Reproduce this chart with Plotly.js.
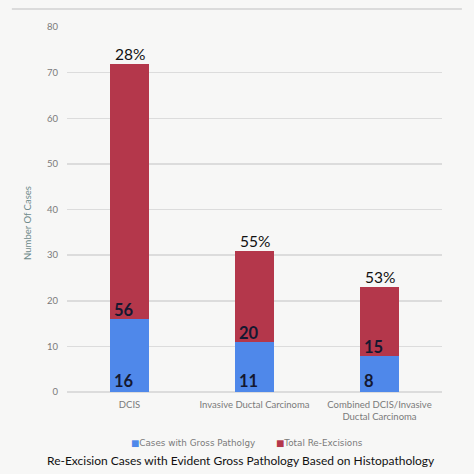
<!DOCTYPE html>
<html>
<head>
<meta charset="utf-8">
<script src="https://cdn.plot.ly/plotly-3.0.1.min.js"></script>
<style>html,body{margin:0;padding:0;background:#f7f7f6;}#chart{width:474px;height:474px;}</style>
</head>
<body>
<div id="chart"></div>
<script>
var categories = ['DCIS', 'Invasive Ductal Carcinoma', 'Combined DCIS/Invasive<br>Ductal Carcinoma'];
var grossPathology = [16, 11, 8];
var totalReExcisions = [56, 20, 15];
var percentLabels = ['28%', '55%', '53%'];
var seriesNames = ['Cases with Gross Patholgy', 'Total Re-Excisions'];
var yTicks = [0, 10, 20, 30, 40, 50, 60, 70, 80];

var blue = '#4f88ea', red = '#b4374b';
var fontFam = 'Lato, "Open Sans", sans-serif';
var wideFam = '"DejaVu Sans", Verdana, sans-serif';

var traces = [
  {type: 'bar', name: seriesNames[0], x: categories, y: grossPathology, marker: {color: blue}, hoverinfo: 'none'},
  {type: 'bar', name: seriesNames[1], x: categories, y: totalReExcisions, marker: {color: red}, hoverinfo: 'none'}
];

var annotations = [];
categories.forEach(function (c, i) {
  annotations.push({x: c, y: 0, text: String(grossPathology[i]), showarrow: false, xanchor: 'left', yanchor: 'bottom', xshift: -18, yshift: -1,
    font: {family: fontFam, size: 16.5, color: '#141830', weight: 'bold'}});
  annotations.push({x: c, y: grossPathology[i], text: String(totalReExcisions[i]), showarrow: false, xanchor: 'left', yanchor: 'bottom', xshift: -18, yshift: -3,
    font: {family: fontFam, size: 16.5, color: '#141830', weight: 'bold'}});
  annotations.push({x: c, y: grossPathology[i] + totalReExcisions[i], text: percentLabels[i], showarrow: false, xanchor: 'center', yanchor: 'bottom', yshift: -1,
    font: {family: fontFam, size: 15.5, color: '#111111'}});
});
// legend built as text entries
var legendColors = [blue, red];
var legendX = [0.166, 0.553];
seriesNames.forEach(function (n, i) {
  annotations.push({xref: 'paper', yref: 'paper', x: legendX[i], y: -0.14, xanchor: 'left', yanchor: 'middle', showarrow: false,
    text: '<span style="color:' + legendColors[i] + '">■</span>' + n,
    font: {family: wideFam, size: 8.8, color: '#7a7a7a'}});
});
// y axis title
annotations.push({xref: 'paper', yref: 'paper', x: -0.107, y: 0.463, xanchor: 'center', yanchor: 'middle', showarrow: false,
  textangle: -90, text: 'Number Of Cases', font: {family: fontFam, size: 9.5, color: '#6e8a8a'}});
annotations.push({xref: 'paper', yref: 'paper', x: 0.463, y: -0.188, xanchor: 'center', yanchor: 'middle', showarrow: false,
  text: 'Re-Excision Cases with Evident Gross Pathology Based on Histopathology',
  font: {family: fontFam, size: 12, color: '#111111'}});

var layout = {
  width: 474, height: 474,
  margin: {l: 67, r: 32, t: 27, b: 82},
  paper_bgcolor: '#f7f7f6', plot_bgcolor: '#f7f7f6',
  barmode: 'stack', bargap: 0.695,
  font: {family: fontFam, color: '#777777'},
  showlegend: false,
  xaxis: {type: 'category', showgrid: false, zeroline: false, showline: false, ticks: '',
    ticklabelstandoff: 5,
    tickfont: {family: fontFam, size: 9.5, color: '#7a7a7a'}, fixedrange: true},
  yaxis: {range: [0, 80], tickvals: yTicks, showgrid: true, gridcolor: '#dcdcdc', gridwidth: 1.5,
    zeroline: true, zerolinecolor: '#dcdcdc', zerolinewidth: 1.5, showline: false, ticks: '',
    ticklabelstandoff: 8,
    tickfont: {family: fontFam, size: 9.5, color: '#7a7a7a'}, fixedrange: true},
  shapes: [{type: 'line', xref: 'paper', yref: 'paper', x0: -0.147, x1: 1.053, y0: 1.049, y1: 1.049,
    line: {color: '#d2d2d2', width: 1.5}}],
  annotations: annotations
};

Plotly.newPlot('chart', traces, layout, {displayModeBar: false, staticPlot: true});
</script>
</body>
</html>
